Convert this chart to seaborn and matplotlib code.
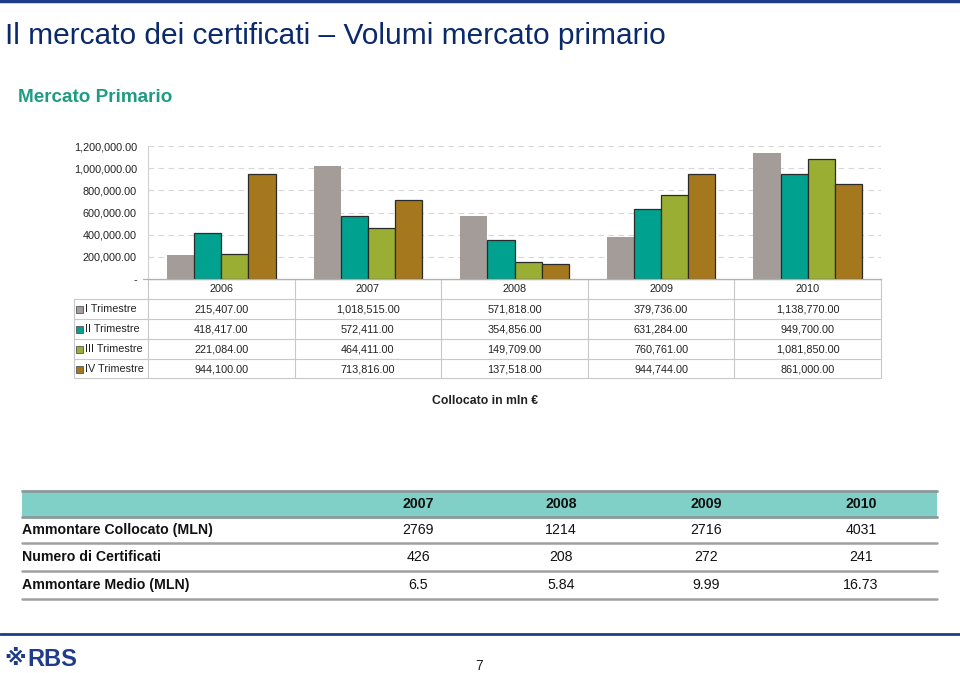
import seaborn as sns
import pandas as pd
import matplotlib.pyplot as plt
from matplotlib import font_manager
from matplotlib.patches import Rectangle

# data
years = ["2006", "2007", "2008", "2009", "2010"]
quarters = ["I Trimestre", "II Trimestre", "III Trimestre", "IV Trimestre"]
q1 = [215407.00, 1018515.00, 571818.00, 379736.00, 1138770.00]
q2 = [418417.00, 572411.00, 354856.00, 631284.00, 949700.00]
q3 = [221084.00, 464411.00, 149709.00, 760761.00, 1081850.00]
q4 = [944100.00, 713816.00, 137518.00, 944744.00, 861000.00]

t_years = ["2007", "2008", "2009", "2010"]
t_rows = ["Ammontare Collocato (MLN)", "Numero di Certificati", "Ammontare Medio (MLN)"]
collocato = ["2769", "1214", "2716", "4031"]
numero = ["426", "208", "272", "241"]
medio = ["6.5", "5.84", "9.99", "16.73"]

colors = ["#A39C98", "#00A18E", "#9AAE34", "#A6781E"]
navy = "#0B2A6B"

sns.set_style("white")
names = {f.name for f in font_manager.fontManager.ttflist}
narrow = "Liberation Sans Narrow" if "Liberation Sans Narrow" in names else "Liberation Sans"
plt.rcParams['font.family'] = [narrow, "DejaVu Sans"]

series = {"I Trimestre": q1, "II Trimestre": q2, "III Trimestre": q3, "IV Trimestre": q4}
df = pd.DataFrame([(y, q, series[q][i]) for q in quarters for i, y in enumerate(years)],
                  columns=["anno", "trimestre", "valore"])

W, H = 960, 673
fig = plt.figure(figsize=(W / 100, H / 100), dpi=100)

# full-page canvas in pixel coordinates
cv = fig.add_axes([0, 0, 1, 1])
cv.set_xlim(0, W)
cv.set_ylim(H, 0)
cv.axis("off")

fs = 7.8  # chart text size
ax_l, ax_r, ax_t, ax_b = 148, 881, 146, 279
ax = fig.add_axes([ax_l / W, 1 - ax_b / H, (ax_r - ax_l) / W, (ax_b - ax_t) / H])
sns.barplot(data=df, x="anno", y="valore", hue="trimestre", order=years, hue_order=quarters,
            palette=colors, width=0.74, gap=0, saturation=1, ax=ax, legend=False)
for i, bars in enumerate(ax.containers):
    for b in bars:
        if i == 0:
            b.set_edgecolor("none")
        else:
            b.set_edgecolor("#2a2a2a")
            b.set_linewidth(0.9)

ax.set_ylim(0, 1200000)
ticks = list(range(0, 1200001, 200000))
ax.set_yticks(ticks)
ax.set_yticklabels(["-" if t == 0 else f"{t:,.2f}" for t in ticks], fontsize=fs, color="#222222")
ax.set_xticks([])
ax.set_xlabel("")
ax.set_ylabel("")
ax.yaxis.grid(True, ls=(0, (5, 4)), color="#d6d6d6", lw=0.8)
ax.set_axisbelow(True)
ax.tick_params(axis="y", length=0, pad=8)
for s in ["top", "right"]:
    ax.spines[s].set_visible(False)
ax.spines["left"].set_color("#d0d0d0")
ax.spines["left"].set_linewidth(0.8)
ax.spines["bottom"].set_color("#b0b0b0")
ax.spines["bottom"].set_linewidth(0.9)

# data table under the chart
col_w = (ax_r - ax_l) / len(years)
lc = "#c8c8c8"
row_y = [299, 319, 339, 359, 378]
cv.plot([143, ax_r], [ax_b, ax_b], color="#b0b0b0", lw=0.9)
for k in range(len(years) + 1):
    cv.plot([ax_l + k * col_w] * 2, [ax_b, row_y[-1]], color=lc, lw=0.8)
cv.plot([74, 74], [row_y[0], row_y[-1]], color=lc, lw=0.8)
for y in row_y:
    cv.plot([74, ax_r], [y, y], color=lc, lw=0.8)
for i, yr in enumerate(years):
    cv.text(ax_l + (i + 0.5) * col_w, 289, yr, ha="center", va="center", fontsize=fs, color="#222222")
for r, q in enumerate(quarters):
    yc = (row_y[r] + row_y[r + 1]) / 2 + 0.5
    cv.add_patch(Rectangle((76, yc - 3.5), 7, 7, facecolor=colors[r], edgecolor="#555555", lw=0.6))
    cv.text(85, yc, q, ha="left", va="center", fontsize=fs, color="#222222")
    for i, v in enumerate(series[q]):
        cv.text(ax_l + (i + 0.5) * col_w, yc, f"{v:,.2f}", ha="center", va="center",
                fontsize=fs, color="#222222")

cv.text(485, 401, "Collocato in mln €", ha="center", va="center", fontsize=8.8,
        fontweight="bold", color="#222222")

# second table
t_x = [418, 561, 706, 861]
cv.add_patch(Rectangle((22, 491), 915, 26, facecolor="#80D0C8", edgecolor="none"))
cv.plot([22, 937], [491, 491], color="#8a9a98", lw=2)
cv.plot([22, 937], [517, 517], color="#8a9a98", lw=2)
for x, yr in zip(t_x, t_years):
    cv.text(x, 504, yr, ha="center", va="center", fontsize=10.2, fontweight="bold", color="#111111")
row_vals = [collocato, numero, medio]
row_c = [530, 557, 585]
row_line = [543, 571, 599]
for lab, vals, yc, yl in zip(t_rows, row_vals, row_c, row_line):
    cv.text(22, yc, lab, ha="left", va="center", fontsize=10.2, fontweight="bold", color="#111111")
    for x, v in zip(t_x, vals):
        cv.text(x, yc, v, ha="center", va="center", fontsize=10.2, color="#111111")
    cv.plot([22, 937], [yl, yl], color="#a0a0a0", lw=1.8)

# slide decoration
cv.plot([0, W], [1, 1], color="#1F3C88", lw=2.5)
cv.plot([0, W], [634, 634], color="#1F3C88", lw=2)
cv.text(5, 36, "Il mercato dei certificati – Volumi mercato primario", ha="left", va="center",
        fontsize=21.5, color=navy)
cv.text(18, 97, "Mercato Primario", ha="left", va="center", fontsize=13.6, fontweight="bold",
        color="#1E9C82")
cv.text(4, 659, "※", ha="left", va="center", fontsize=16, fontweight="bold", color="#1F3C88",
        family="DejaVu Sans")
cv.text(27, 659, "RBS", ha="left", va="center", fontsize=17, fontweight="bold", color="#1F3C88")
cv.text(479, 666, "7", ha="center", va="center", fontsize=10, color="#222222")

fig.savefig("out.png", dpi=100)
